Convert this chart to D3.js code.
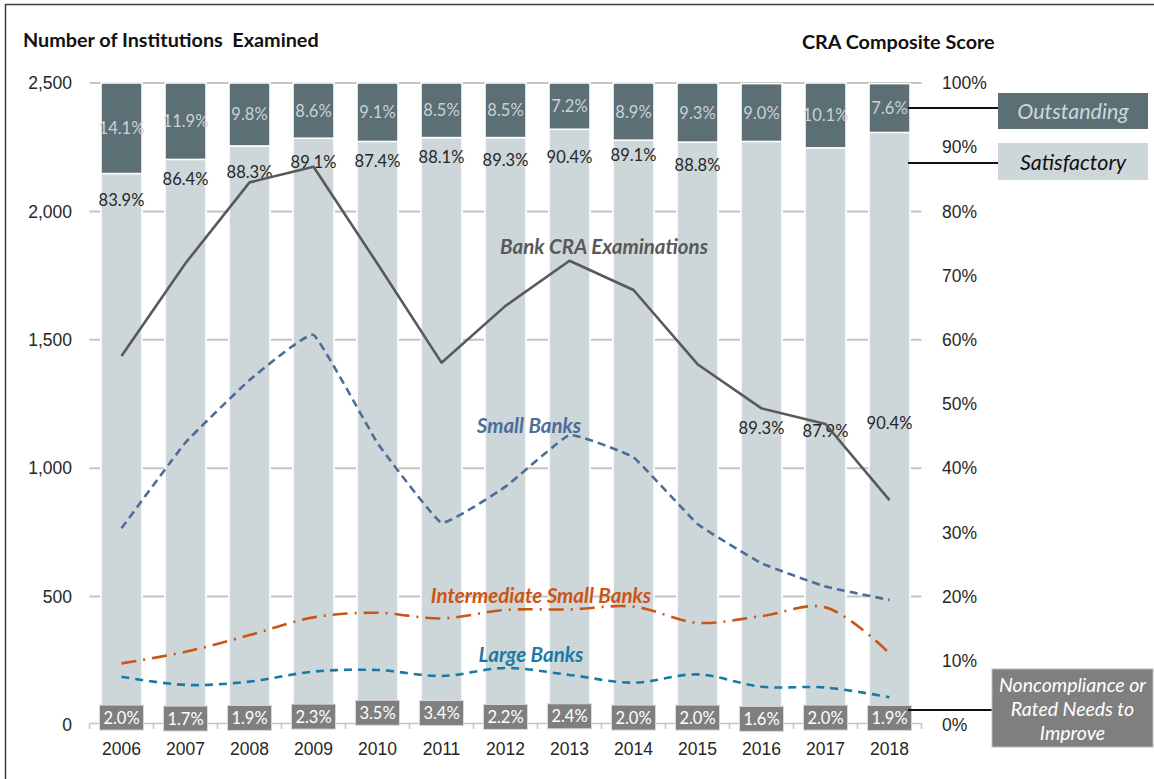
<!DOCTYPE html>
<html>
<head>
<meta charset="utf-8">
<script src="https://cdn.jsdelivr.net/npm/d3@7"></script>
<style>
  html, body { margin: 0; padding: 0; background: #fff; }
  svg { display: block; font-family: Lato, "Open Sans", "DejaVu Sans", sans-serif; }
</style>
</head>
<body>
<svg id="chart" width="1154" height="779"></svg>
<script>
// ---------- DATA ----------
const years = ["2006","2007","2008","2009","2010","2011","2012","2013","2014","2015","2016","2017","2018"];
// CRA composite score shares (%)
const outstanding  = [14.1, 11.9, 9.8, 8.6, 9.1, 8.5, 8.5, 7.2, 8.9, 9.3, 9.0, 10.1, 7.6];
const satisfactory = [83.9, 86.4, 88.3, 89.1, 87.4, 88.1, 89.3, 90.4, 89.1, 88.8, 89.3, 87.9, 90.4];
const needsImprove = [2.0, 1.7, 1.9, 2.3, 3.5, 3.4, 2.2, 2.4, 2.0, 2.0, 1.6, 2.0, 1.9];
// number of institutions examined
const bankCRA      = [1437, 1798, 2113, 2174, 1796, 1411, 1632, 1808, 1694, 1405, 1233, 1172, 876];
const smallBanks   = [766, 1100, 1343, 1519, 1098, 788, 928, 1129, 1042, 783, 630, 539, 487];
const intermediate = [240, 285, 350, 419, 437, 415, 448, 450, 461, 398, 424, 458, 279];
const largeBanks   = [188, 156, 169, 208, 214, 191, 222, 195, 165, 197, 149, 146, 108];
// tick labels
const leftTicks  = [0, 500, 1000, 1500, 2000, 2500];
const rightTicks = [0, 10, 20, 30, 40, 50, 60, 70, 80, 90, 100];

// label anchor (in % units) for the "Satisfactory" data labels (layout only)
const satLabelAt = [81.8, 85.0, 86.2, 87.7, 87.9, 88.5, 88.0, 88.5, 88.8, 87.3, 46.2, 45.8, 47.1];

// ---------- LAYOUT ----------
const svg = d3.select("#chart");
const pLeft = 89.5, pRight = 921.5, pTop = 83, pBottom = 725;
const C = {
  out: "#5b6f75", sat: "#cdd6d9", non: "#7f7f7f",
  outText: "#c9d3d6", text: "#262626", grid: "#c4c4c4",
  bank: "#595959", small: "#4e6d96", inter: "#cc5514", large: "#1a7aa5"
};

const x = d3.scaleBand().domain(years).range([pLeft, pRight]).paddingInner(0.36).paddingOuter(0.18);
const yL = d3.scaleLinear().domain([0, 2500]).range([pBottom, pTop]);
const yR = d3.scaleLinear().domain([0, 100]).range([pBottom, pTop]);
const bw = x.bandwidth();

// frame
svg.append("path").attr("d", "M5.5,800 L5.5,4.5 L1160,4.5").attr("fill", "none")
  .attr("stroke", "#404040").attr("stroke-width", 1.5);

// gridlines
svg.append("g").selectAll("line").data(leftTicks.filter(d => d > 0)).join("line")
  .attr("x1", pLeft).attr("x2", pRight)
  .attr("y1", d => yL(d)).attr("y2", d => yL(d))
  .attr("stroke", C.grid).attr("stroke-width", 2);

// stacked bars
const table = years.map((y, i) => ({ year: y, non: needsImprove[i], sat: satisfactory[i], out: outstanding[i] }));
const keys = ["non", "sat", "out"];
const stacked = d3.stack().keys(keys)(table);
const fills = { non: C.non, sat: C.sat, out: C.out };

svg.append("g").selectAll("g").data(stacked).join("g")
  .attr("fill", d => fills[d.key])
  .selectAll("rect").data(d => d).join("rect")
  .attr("x", d => x(d.data.year))
  .attr("width", bw)
  .attr("y", d => yR(Math.min(100, d[1])))
  .attr("height", d => yR(d[0]) - yR(Math.min(100, d[1])))
  .attr("stroke", "#ffffff").attr("stroke-width", 1.5);

// x-axis baseline with tick marks between categories
const xAxisG = svg.append("g");
xAxisG.append("line").attr("x1", pLeft).attr("x2", pRight).attr("y1", pBottom - 1.5).attr("y2", pBottom - 1.5)
  .attr("stroke", C.grid).attr("stroke-width", 1.5);
const boundaries = years.map(y => x(y) - x.step() * x.paddingInner() / 2).concat([pRight]);
boundaries[0] = pLeft;
xAxisG.selectAll("line.tk").data(boundaries).join("line").attr("class", "tk")
  .attr("x1", d => d).attr("x2", d => d).attr("y1", pBottom - 1.5).attr("y2", pBottom + 4)
  .attr("stroke", C.grid).attr("stroke-width", 1.5);

// Outstanding labels (centered in segment)
const outSeries = stacked[2];
svg.append("g").selectAll("text").data(outSeries).join("text")
  .attr("x", d => x(d.data.year) + bw / 2)
  .attr("y", d => (yR(Math.min(100, d[1])) + yR(d[0])) / 2)
  .attr("text-anchor", "middle").attr("dominant-baseline", "central")
  .attr("font-size", 16.5).attr("fill", C.outText)
  .text(d => d.data.out.toFixed(1) + "%");

// Satisfactory labels
svg.append("g").selectAll("text").data(years).join("text")
  .attr("x", d => x(d) + bw / 2)
  .attr("y", (d, i) => yR(satLabelAt[i]))
  .attr("text-anchor", "middle").attr("dominant-baseline", "central")
  .attr("font-size", 16.5).attr("fill", C.text)
  .text((d, i) => satisfactory[i].toFixed(1) + "%");

// Noncompliance label boxes
const nonSeries = stacked[0];
const nb = svg.append("g").selectAll("g").data(nonSeries).join("g")
  .attr("transform", d => `translate(${x(d.data.year) + bw / 2},${(yR(d[0]) + yR(d[1])) / 2 - 1})`);
nb.append("rect").attr("x", -22).attr("y", -12.5).attr("width", 44).attr("height", 25)
  .attr("fill", C.non).attr("stroke", "#d9d9d9").attr("stroke-width", 1);
nb.append("text").attr("text-anchor", "middle").attr("dominant-baseline", "central")
  .attr("font-size", 16.5).attr("fill", "#ffffff")
  .text(d => d.data.non.toFixed(1) + "%");

// lines
const cx = d => x(d) + bw / 2;
function drawLine(values, color, dash, curve) {
  const line = d3.line().x((v, i) => cx(years[i])).y(v => yL(v)).curve(curve);
  svg.append("path").datum(values).attr("d", line)
    .attr("fill", "none").attr("stroke", color).attr("stroke-width", 2.6)
    .attr("stroke-dasharray", dash).attr("stroke-linejoin", "round");
}
drawLine(largeBanks, C.large, "8,6", d3.curveCatmullRom.alpha(0.5));
drawLine(intermediate, C.inter, "15,7,2,7", d3.curveCatmullRom.alpha(0.5));
drawLine(smallBanks, C.small, "8,5", d3.curveCardinal.tension(0.7));
drawLine(bankCRA, C.bank, null, d3.curveLinear);

// line labels
const lineLabels = [
  { text: "Bank CRA Examinations", x: 604, y: 246, color: C.bank },
  { text: "Small Banks", x: 529, y: 425, color: C.small },
  { text: "Intermediate Small Banks", x: 541, y: 595, color: C.inter },
  { text: "Large Banks", x: 531, y: 654, color: C.large }
];
svg.append("g").selectAll("text").data(lineLabels).join("text")
  .attr("x", d => d.x).attr("y", d => d.y)
  .attr("text-anchor", "middle").attr("dominant-baseline", "central")
  .attr("font-size", 20.5).attr("font-style", "italic").attr("font-weight", 700)
  .attr("fill", d => d.color).text(d => d.text);

// left axis
const axL = svg.append("g").attr("transform", `translate(${pLeft},0)`)
  .call(d3.axisLeft(yL).tickValues(leftTicks).tickFormat(d3.format(",")).tickSize(0).tickPadding(17.5));
axL.select(".domain").remove();
axL.selectAll("text").attr("font-size", 17.5).attr("fill", C.text).attr("font-family", null);

// right axis
const axR = svg.append("g").attr("transform", `translate(${pRight},0)`)
  .call(d3.axisRight(yR).tickValues(rightTicks).tickFormat(d => d + "%").tickSize(0).tickPadding(20.5));
axR.select(".domain").remove();
axR.selectAll("text").attr("font-size", 17.5).attr("fill", C.text).attr("font-family", null);

// bottom axis (year labels)
const axB = svg.append("g").attr("transform", `translate(0,${pBottom})`)
  .call(d3.axisBottom(x).tickSize(0).tickPadding(18));
axB.select(".domain").remove();
axB.selectAll("text").attr("font-size", 17.5).attr("fill", C.text).attr("font-family", null);

// titles
svg.append("text").attr("x", 23).attr("y", 39).attr("dominant-baseline", "central")
  .attr("font-size", 19.8).attr("font-weight", 700).attr("fill", "#111")
  .text("Number of Institutions\u00a0 Examined");
svg.append("text").attr("x", 802).attr("y", 41).attr("dominant-baseline", "central")
  .attr("font-size", 19.8).attr("font-weight", 700).attr("fill", "#111")
  .text("CRA Composite Score");

// legend boxes with leader lines
const lastX = x(years[years.length - 1]) + bw;
const legend = [
  { lines: ["Outstanding"], y0: 93, h: 36, x0: 998, w: 150, fill: C.out, color: "#cfd7da", leadY: 108, stroke: null, fs: 21.5 },
  { lines: ["Satisfactory"], y0: 143, h: 37, x0: 998, w: 150, fill: C.sat, color: "#111", leadY: 163, stroke: null, fs: 21.5 },
  { lines: ["Noncompliance or", "Rated Needs to", "Improve"], y0: 669, h: 78, x0: 992, w: 161, fill: C.non, color: "#ffffff", leadY: 710, stroke: "#bfbfbf", fs: 19.5 }
];
const lg = svg.append("g");
legend.forEach(L => {
  lg.append("line").attr("x1", lastX - 2).attr("x2", L.x0).attr("y1", L.leadY).attr("y2", L.leadY)
    .attr("stroke", "#111").attr("stroke-width", 2);
  lg.append("rect").attr("x", L.x0).attr("y", L.y0).attr("width", L.w).attr("height", L.h)
    .attr("fill", L.fill).attr("stroke", L.stroke || "none");
  const n = L.lines.length, lh = 24;
  L.lines.forEach((t, i) => {
    lg.append("text").attr("x", L.x0 + L.w / 2)
      .attr("y", L.y0 + L.h / 2 + (i - (n - 1) / 2) * lh)
      .attr("text-anchor", "middle").attr("dominant-baseline", "central")
      .attr("font-size", L.fs).attr("font-style", "italic").attr("fill", L.color)
      .text(t);
  });
});
</script>
</body>
</html>
